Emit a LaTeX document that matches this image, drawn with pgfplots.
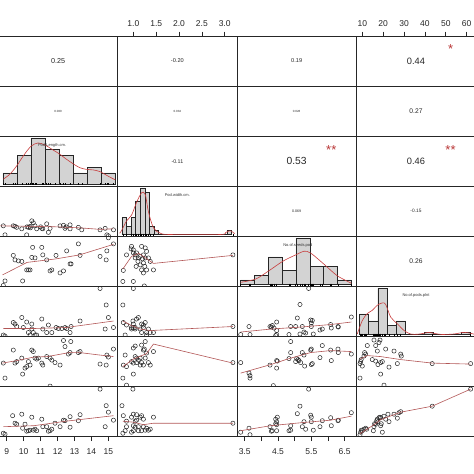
\documentclass[border=0pt]{standalone}
\usepackage{fontspec}
\setmainfont{Liberation Sans}
\usepackage{pgfplots}
\pgfplotsset{compat=1.18}
\usepgfplotslibrary{groupplots}

\definecolor{histgray}{RGB}{211,211,211}
\definecolor{smoothred}{RGB}{178,86,86}
\definecolor{densred}{RGB}{200,60,60}
\definecolor{starred}{RGB}{185,55,55}

\pgfplotsset{
  panel/.style={scale only axis, width=119.3pt, height=50.09pt,
    xtick=\empty, ytick=\empty, tick align=outside, major tick length=4.3pt,
    axis line style={line width=0.8pt, black!85},
    tick style={black!85, line width=0.6pt},
    clip marker paths=true,
    /pgf/number format/assume math mode=true,
    xticklabel style={font=\fontsize{8.5}{10}\selectfont, text=black!85}},
  c1/.style={xmin=8.51, xmax=15.55},
  c2/.style={xmin=0.657, xmax=3.27},
  c3/.style={xmin=3.27, xmax=6.85},
  c4/.style={xmin=7.13, xmax=64.3},
  sc/.style={ymin=0, ymax=100},
  txt/.style={ymin=0, ymax=1},
  topticks/.style={xtick pos=right, xticklabel pos=right, xticklabel style={yshift=1.5pt}},
  bottomticks/.style={xtick pos=left, xticklabel pos=left, xticklabel style={yshift=-4.5pt}},
  pt/.style={only marks, mark=o, mark size=2.1pt, mark options={black!85, line width=0.5pt}},
  lw/.style={smoothred, line width=0.6pt, no marks},
  hbar/.style={ybar interval, fill=histgray, draw=black!85, line width=0.45pt},
  dens/.style={densred, line width=0.6pt, no marks, smooth},
  rug/.style={only marks, mark=|, mark size=1pt, mark options={black, line width=0.4pt}},
}

\newcommand{\cor}[2]{\node[font=\fontsize{#1}{#1}\selectfont, text=black!85] at (rel axis cs:0.5,0.5) {#2};}
\newcommand{\stars}[1]{\node[font=\fontsize{13}{13}\selectfont, text=starred, yshift=-2.5pt] at (rel axis cs:0.79,0.78) {#1};}
\newcommand{\diag}[2]{\node[font=\fontsize{4}{4}\selectfont, text=black!80] at (rel axis cs:#1,0.82) {#2};}

\begin{document}
\begin{tikzpicture}
\begin{groupplot}[group style={group size=4 by 8, horizontal sep=0pt, vertical sep=0pt, group name=G}, panel]

% ---- row 1
\nextgroupplot[c1, txt]
\cor{7.2}{0.25}
\nextgroupplot[c2, txt, topticks, xtick={1,1.5,2,2.5,3}, xticklabels={1.0,1.5,2.0,2.5,3.0}]
\cor{5.6}{-0.20}
\nextgroupplot[c3, txt]
\cor{5.65}{0.19}
\nextgroupplot[c4, txt, topticks, xtick={10,20,30,40,50,60}, xticklabels={10,20,30,40,50,60}]
\cor{9.25}{0.44}
\stars{*}

% ---- row 2
\nextgroupplot[c1, txt]
\cor{3}{0.030}
\nextgroupplot[c2, txt]
\cor{3}{0.034}
\nextgroupplot[c3, txt]
\cor{3}{0.028}
\nextgroupplot[c4, txt]
\cor{6.7}{0.27}

% ---- row 3
\nextgroupplot[c1, ymin=-0.32, ymax=8.32]
\addplot[hbar] coordinates {(8.78,2)(9.61,5)(10.43,8)(11.26,6)(12.08,5)(12.91,2)(13.74,3)(14.56,2)(15.39,2)};
\addplot[dens] coordinates {(8.80,0.9)(9.2,1.8)(9.59,3.2)(10.0,5.0)(10.44,6.6)(10.85,7.15)(11.26,6.8)(11.7,6.0)(12.09,5.3)(12.5,4.4)(12.9,3.6)(13.3,2.9)(13.69,2.6)(14.1,2.5)(14.51,2.2)(15.0,1.4)(15.4,0.8)};
\addplot[rug] coordinates {(8.80,0)(8.90,0)(9.39,0)(9.49,0)(9.59,0)(9.89,0)(10.18,0)(10.28,0)(10.38,0)(10.48,0)(10.57,0)(10.67,0)(10.77,0)(11.07,0)(11.13,0)(11.36,0)(11.46,0)(11.56,0)(11.85,0)(12.15,0)(12.35,0)(12.44,0)(12.74,0)(13.23,0)(13.43,0)(14.51,0)(14.81,0)(14.91,0)(15.00,0)(15.30,0)};
\diag{0.45}{Pod.Length.cm.}
\nextgroupplot[c2, txt]
\cor{5.3}{-0.11}
\nextgroupplot[c3, txt]
\cor{10.3}{0.53}
\stars{**}
\nextgroupplot[c4, txt]
\cor{9.25}{0.46}
\stars{**}

% ---- row 4
\nextgroupplot[c1, sc]
\addplot[pt] coordinates {(8.80,21)(8.90,3)(9.39,21)(9.49,20)(9.59,18)(9.89,15)(10.18,3)(10.28,18)(10.38,20)(10.48,31)(10.57,27)(10.67,21)(10.77,15)(11.07,16)(11.13,15)(11.36,25)(11.56,16)(11.46,8)(12.15,21)(12.35,22)(12.44,16)(12.74,23)(12.74,15)(13.23,18)(13.43,13)(14.51,13)(14.81,16)(14.91,3)(15.00,1)(15.30,13)(10.40,17)(10.20,19)(11.00,19)(12.50,19)};
\addplot[lw] coordinates {(8.55,21)(10.5,20)(12.0,19)(13.3,17)(14.5,14)(15.3,15)};
\nextgroupplot[c2, ymin=-0.44, ymax=11.44]
\addplot[hbar] coordinates {(0.75,4)(0.85,2)(0.95,4)(1.05,8)(1.15,11)(1.25,10)(1.35,2)(1.45,1)(1.55,0)(3.05,1)(3.15,1)};
\addplot[dens] coordinates {(0.70,0.3)(0.74,0.9)(0.85,3.2)(0.96,4.6)(1.07,7.6)(1.18,9.9)(1.26,9.5)(1.33,5.4)(1.44,1.6)(1.59,0.3)(1.8,0.0)(2.9,0.0)(3.02,0.45)(3.12,0.9)(3.22,0.2)};
\addplot[rug] coordinates {(0.77,0)(0.78,0)(0.85,0)(0.96,0)(1.00,0)(1.04,0)(1.07,0)(1.11,0)(1.15,0)(1.18,0)(1.22,0)(1.26,0)(1.29,0)(1.33,0)(1.37,0)(1.44,0)(3.18,0)};
\diag{0.5}{Pod.width.cm.}
\nextgroupplot[c3, txt]
\cor{3.6}{0.069}
\nextgroupplot[c4, txt]
\cor{4.8}{-0.15}

% ---- row 5
\nextgroupplot[c1, sc]
\addplot[pt] coordinates {(8.90,11)(8.80,2)(9.39,62)(9.49,53)(9.69,51)(9.89,50)(9.94,11)(10.18,33)(10.28,33)(10.38,33)(10.48,58)(10.53,78)(10.67,57)(11.07,78)(11.13,63)(11.36,53)(11.56,31)(11.66,33)(11.91,62)(12.15,27)(12.35,31)(12.54,71)(12.74,45)(12.80,45)(13.23,85)(13.33,62)(14.51,60)(14.87,53)(14.91,71)(15.00,97)(15.30,85)};
\addplot[lw] coordinates {(8.75,23)(10.2,48)(11.9,55)(13.3,63)(15.3,84)};
\nextgroupplot[c2, sc]
\addplot[pt] coordinates {(0.78,32)(0.77,10)(0.85,63)(0.96,80)(1.00,73)(1.00,67)(1.04,63)(1.04,57)(1.07,67)(1.06,40)(1.11,57)(1.15,43)(1.18,80)(1.15,60)(1.22,63)(1.22,47)(1.26,77)(1.26,57)(1.29,70)(1.29,33)(1.33,57)(1.37,50)(1.18,33)(1.22,27)(1.44,33)(1.00,10)(1.24,1)(3.18,63)(1.10,50)(1.20,55)(1.25,40)(0.95,75)};
\addplot[lw] coordinates {(0.77,35)(0.96,60)(1.12,66)(1.44,46)(3.18,62)};
\nextgroupplot[c3, ymin=-0.4, ymax=10.4]
\addplot[hbar] coordinates {(3.38,1)(3.795,2)(4.21,6)(4.625,3)(5.04,10)(5.455,4)(5.87,4)(6.285,1)(6.70,1)};
\addplot[dens] coordinates {(3.38,0.5)(3.83,1.2)(4.23,3.0)(4.66,5.1)(5.06,6.5)(5.28,7.2)(5.48,6.8)(5.88,4.4)(6.28,1.9)(6.70,0.3)};
\addplot[rug] coordinates {(3.38,0)(3.63,0)(3.66,0)(4.26,0)(4.30,0)(4.33,0)(4.38,0)(4.46,0)(4.83,0)(4.88,0)(5.03,0)(5.08,0)(5.16,0)(5.23,0)(5.28,0)(5.33,0)(5.42,0)(5.48,0)(5.50,0)(5.53,0)(5.56,0)(5.76,0)(5.83,0)(6.08,0)(6.10,0)(6.30,0)(6.70,0)};
\diag{0.51}{No.of.seeds.pod}
\nextgroupplot[c4, txt]
\cor{6.7}{0.26}

% ---- row 6
\nextgroupplot[c1, sc]
\addplot[pt] coordinates {(8.80,3)(8.90,1)(9.39,28)(9.49,25)(9.59,20)(9.89,38)(9.98,18)(10.18,29)(10.28,8)(10.38,3)(10.48,25)(10.48,15)(10.57,8)(10.67,3)(10.77,3)(11.07,35)(11.13,15)(11.36,8)(11.46,23)(11.66,8)(11.91,18)(12.05,16)(12.25,16)(12.44,18)(12.54,16)(12.74,8)(12.80,20)(13.33,31)(14.51,96)(14.87,63)(15.00,38)(14.81,15)(15.30,18)};
\addplot[lw] coordinates {(8.8,16)(10.6,16)(12.5,18)(15.3,31)};
\nextgroupplot[c2, sc]
\addplot[pt] coordinates {(0.77,63)(0.78,28)(0.82,3)(0.85,23)(0.96,18)(1.00,18)(0.99,31)(1.04,18)(1.07,35)(1.11,38)(1.15,15)(1.18,25)(1.18,8)(1.22,23)(1.22,18)(1.26,28)(1.29,8)(1.33,15)(1.37,8)(1.29,3)(1.44,8)(1.00,96)(3.18,20)(0.96,15)(1.04,15)(1.00,25)};
\addplot[lw] coordinates {(0.77,31)(0.96,22)(1.15,15)(1.37,12)(3.18,20)};
\nextgroupplot[c3, sc]
\addplot[pt] coordinates {(3.38,4)(3.63,20)(3.66,4)(4.26,20)(4.30,19)(4.33,22)(4.38,17)(4.46,29)(4.46,12)(4.46,4)(4.43,2)(4.83,4)(4.88,20)(5.03,20)(5.08,37)(5.16,64)(5.16,5)(5.23,20)(5.28,9)(5.33,7)(5.42,96)(5.48,33)(5.50,27)(5.50,20)(5.53,32)(5.56,5)(5.76,13)(5.83,15)(6.08,24)(6.10,17)(6.30,20)(6.31,19)(6.70,39)};
\addplot[lw] coordinates {(3.38,9)(4.3,15)(5.2,19)(6.08,24)(6.7,29)};
\nextgroupplot[c4, ymin=-0.8, ymax=20.8]
\addplot[hbar] coordinates {(8.5,9)(12.95,6)(17.4,20)(21.85,4)(26.3,6)(30.75,0)(35.2,0)(39.65,1)(44.1,0)(48.55,0)(53.0,0)(57.45,1)(61.9,1)};
\addplot[dens] coordinates {(7.6,0.3)(10,6.1)(12.4,9.1)(14.8,10.5)(17.2,12.7)(19.6,13.7)(21.2,13.1)(23.6,7.6)(26.8,4.7)(30.0,1.8)(33.1,0.3)(36.5,0.2)(39.5,0.6)(41.9,1.0)(44.3,0.6)(48,0.1)(53.9,0.3)(58.7,1.0)(61.9,0.6)(64,0.1)};
\addplot[rug] coordinates {(8.9,0)(9.2,0)(9.5,0)(10,0)(10.8,0)(11.6,0)(12.1,0)(15.3,0)(15.6,0)(16.4,0)(16.9,0)(17.2,0)(17.5,0)(18.0,0)(18.5,0)(18.8,0)(19.6,0)(20.4,0)(21.2,0)(22.8,0)(25.2,0)(26.8,0)(28.4,0)(43.5,0)(61.9,0)};
\diag{0.5}{No.of.pods.plnt}

% ---- row 7
\nextgroupplot[c1, sc]
\addplot[pt] coordinates {(8.80,47)(8.90,17)(9.39,73)(9.49,47)(9.59,50)(9.89,57)(9.94,25)(10.08,37)(10.18,40)(10.28,50)(10.38,43)(10.48,73)(10.57,70)(10.67,57)(10.77,55)(10.87,57)(11.07,47)(11.13,43)(11.36,60)(11.56,1)(11.56,57)(11.66,53)(11.85,48)(12.15,43)(12.35,92)(12.44,80)(12.64,65)(12.74,68)(12.78,90)(13.23,68)(13.33,70)(14.51,45)(14.87,43)(14.91,63)(15.00,59)(15.30,75)};
\addplot[lw] coordinates {(8.75,47)(9.6,52)(10.6,59)(11.4,60)(12.7,68)(13.3,68)(14.5,63)(15.3,60)};
\nextgroupplot[c2, sc]
\addplot[pt] coordinates {(0.77,17)(0.78,43)(0.82,63)(0.85,3)(0.85,40)(0.96,50)(1.00,47)(1.00,77)(1.04,81)(1.04,60)(1.07,48)(1.07,57)(1.11,53)(1.15,57)(1.15,43)(1.18,83)(1.18,48)(1.22,73)(1.22,43)(1.26,90)(1.26,57)(1.29,67)(1.33,48)(1.37,43)(1.24,75)(1.00,25)(1.44,70)(3.18,48)};
\addplot[lw] coordinates {(0.77,40)(1.0,55)(1.29,66)(1.44,85)(3.18,47)};
\nextgroupplot[c3, sc]
\addplot[pt] coordinates {(3.38,48)(3.63,27)(3.66,22)(3.66,17)(4.26,43)(4.36,2)(4.46,52)(4.46,37)(4.48,51)(4.83,56)(4.88,90)(4.88,68)(5.03,50)(5.06,56)(5.10,54)(5.13,52)(5.18,48)(5.23,68)(5.28,63)(5.48,73)(5.50,75)(5.53,46)(5.50,44)(5.30,41)(5.83,82)(5.76,58)(6.08,73)(6.10,52)(6.30,75)(6.31,68)(6.70,65)};
\addplot[lw] coordinates {(3.38,27)(4.28,44)(4.83,56)(5.48,68)(6.08,72)(6.7,70)};
\nextgroupplot[c4, sc]
\addplot[pt] coordinates {(8.9,17)(9.2,50)(8.9,46)(9.5,54)(10,41)(10.8,61)(11.1,68)(11.6,65)(12.4,82)(14.8,54)(15.6,93)(16.4,82)(16.4,51)(17.2,71)(17.5,44)(18.0,88)(18.5,93)(18.8,48)(18.8,25)(19.6,50)(20.4,3)(21.2,75)(22.8,39)(25.2,71)(26.8,46)(28.4,65)(28.7,61)(43.5,46)(61.9,46)};
\addplot[lw] coordinates {(8.9,55)(12.4,62)(18.8,60)(28.4,54)(43.5,47)(61.9,45)};

% ---- row 8
\nextgroupplot[c1, sc, bottomticks, xtick={9,10,11,12,13,14,15}, xticklabels={9,10,11,12,13,14,15}]
\addplot[pt] coordinates {(8.80,7)(8.90,5)(9.35,42)(9.49,27)(9.59,25)(9.89,45)(9.94,17)(10.08,25)(10.18,11)(10.28,12)(10.38,13)(10.48,39)(10.57,13)(10.67,15)(10.77,12)(11.07,35)(11.13,20)(11.36,20)(11.46,11)(11.56,12)(11.66,15)(11.85,27)(12.15,20)(12.35,33)(12.44,32)(12.74,40)(12.74,19)(13.23,32)(13.33,44)(14.51,95)(14.87,62)(14.81,20)(15.00,49)(15.30,33)};
\addplot[lw] coordinates {(8.8,20)(10.6,22)(12.5,31)(15.3,42)};
\nextgroupplot[c2, sc]
\addplot[pt] coordinates {(0.75,62)(0.77,7)(0.78,42)(0.82,12)(0.85,20)(0.96,39)(1.00,22)(1.00,45)(1.04,19)(1.07,44)(1.07,33)(1.11,20)(1.15,39)(1.18,42)(1.18,12)(1.22,35)(1.22,20)(1.26,13)(1.29,17)(1.33,13)(1.37,15)(1.00,12)(1.11,12)(1.04,31)(0.85,31)(0.99,95)(1.44,39)(3.18,27)(0.96,9)};
\addplot[lw] coordinates {(0.77,31)(1.0,29)(1.22,24)(1.44,27)(3.18,27)};
\nextgroupplot[c3, sc, bottomticks, xtick={3.5,4,4.5,5,5.5,6,6.5}, xticklabels={3.5,,4.5,,5.5,,6.5}]
\addplot[pt] coordinates {(3.38,9)(3.63,17)(3.66,4)(4.26,20)(4.30,11)(4.33,12)(4.43,35)(4.46,30)(4.46,24)(4.46,12)(4.48,39)(4.83,12)(4.88,22)(4.88,13)(5.08,46)(5.16,61)(5.23,20)(5.28,30)(5.33,15)(5.42,95)(5.48,43)(5.50,39)(5.50,30)(5.56,13)(5.76,20)(5.83,32)(6.08,38)(6.10,22)(6.30,32)(6.31,33)(6.70,48)(4.43,26)};
\addplot[lw] coordinates {(3.38,12)(4.28,22)(5.2,28)(6.08,33)(6.7,41)};
\nextgroupplot[c4, sc]
\addplot[pt] coordinates {(8.9,4)(9.2,9)(9.5,13)(10,12)(10.8,15)(11.6,17)(12.1,15)(15.6,20)(15.9,26)(16.4,25)(16.9,32)(17.2,35)(17.5,30)(18.0,38)(18.5,39)(18.8,22)(19.6,9)(19.1,26)(18.8,38)(20.4,41)(21.2,35)(22.3,45)(22.8,30)(25.2,45)(26.8,37)(27.6,48)(28.4,50)(43.5,61)(61.9,95)(15.3,12)};
\addplot[lw] coordinates {(8.9,6)(15.6,24)(18.8,34)(28.4,49)(43.5,61)(61.9,95)};

\end{groupplot}
\pgfresetboundingbox
\path[use as bounding box] ([xshift=1.6pt,yshift=36pt]G c1r1.north west) rectangle ([xshift=475.6pt,yshift=-438pt]G c1r1.north west);
\end{tikzpicture}
\end{document}
